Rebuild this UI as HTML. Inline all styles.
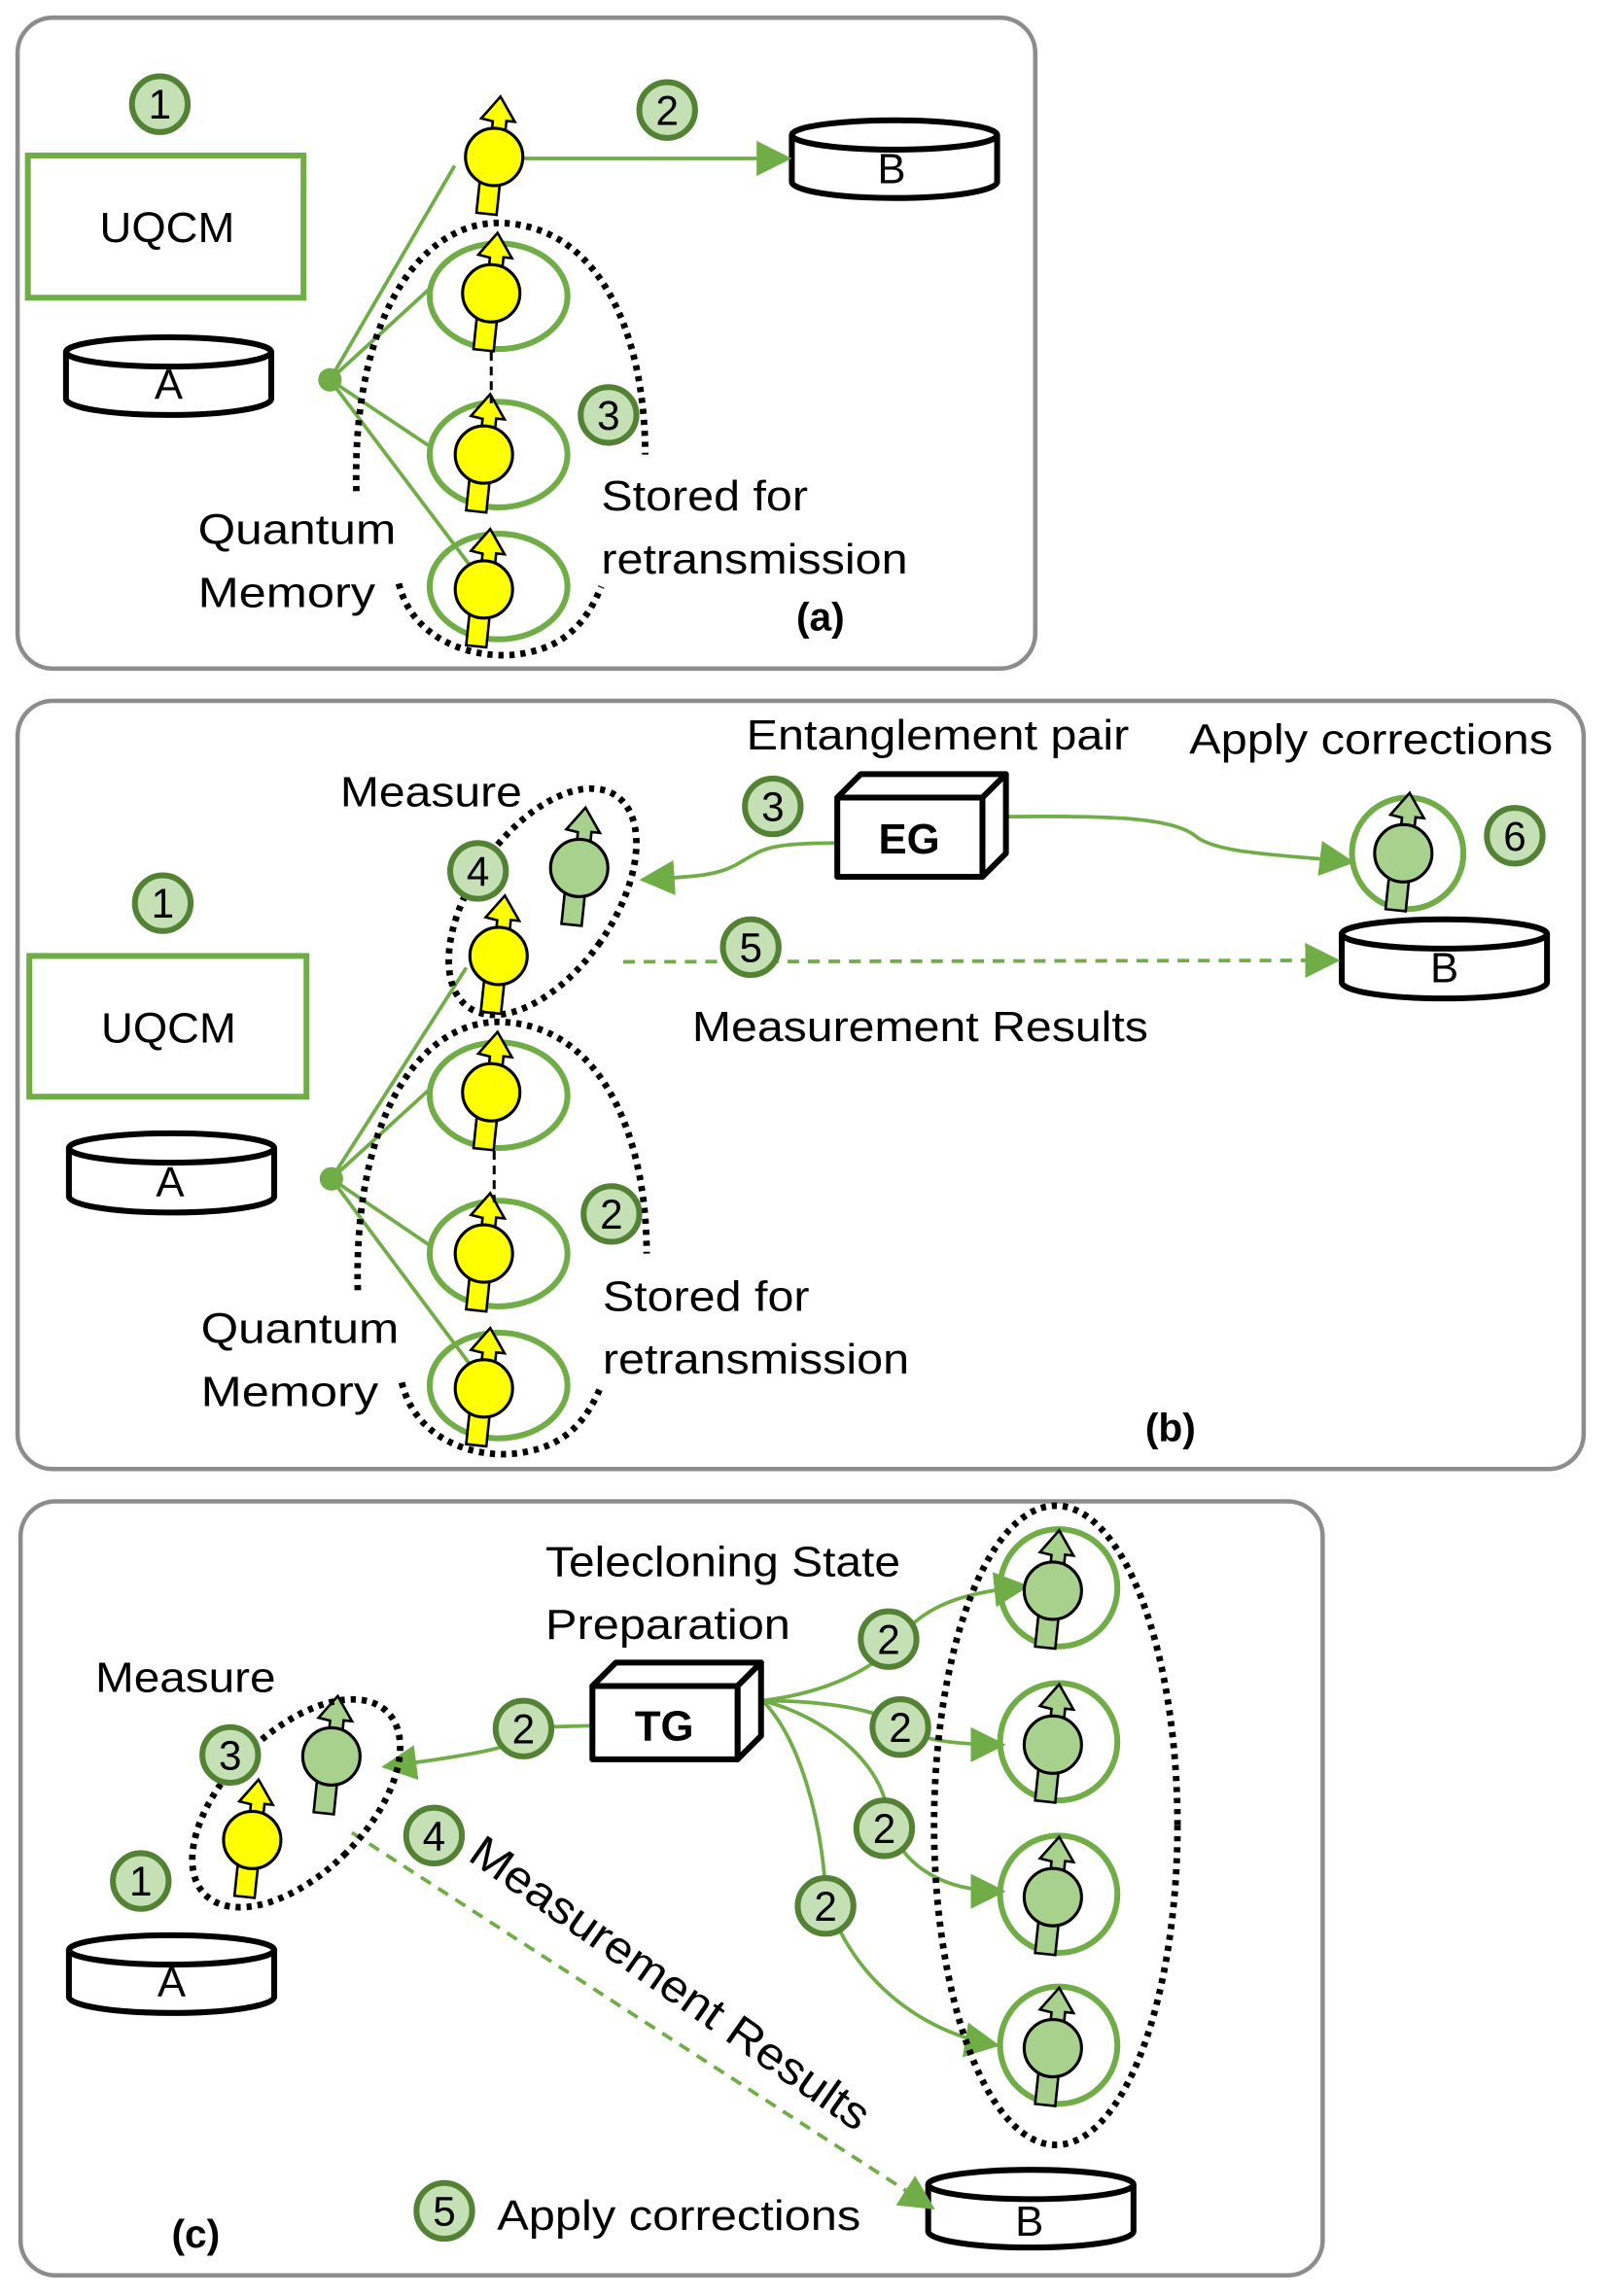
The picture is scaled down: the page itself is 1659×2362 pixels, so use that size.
<!DOCTYPE html>
<html><head><meta charset="utf-8"><style>
html,body{margin:0;padding:0;background:#fff}
svg{display:block}
text{font-family:"Liberation Sans",sans-serif;fill:#000}
</style></head><body>
<svg width="1659" height="2362" viewBox="0 0 1100 1566" xmlns="http://www.w3.org/2000/svg">
<defs>
<g id="ys" transform="scale(1.15)">
 <polygon points="0,-36 10,-22 5,-22 5,-15 -3,-15 -3,-21 -10,-22" fill="#ffff00" stroke="#000" stroke-width="1.5" transform="rotate(6)"/>
 <rect x="-7" y="14" width="12" height="20" fill="#ffff00" stroke="#000" stroke-width="1.5" transform="rotate(6)"/>
 <circle r="17" fill="#ffff00" stroke="#000" stroke-width="1.8"/>
</g>
<g id="gs" transform="scale(1.15)">
 <polygon points="0,-36 10,-22 5,-22 5,-15 -3,-15 -3,-21 -10,-22" fill="#a9d18e" stroke="#000" stroke-width="1.5" transform="rotate(6)"/>
 <rect x="-7" y="14" width="12" height="20" fill="#a9d18e" stroke="#000" stroke-width="1.5" transform="rotate(6)"/>
 <circle r="17" fill="#a9d18e" stroke="#000" stroke-width="1.8"/>
</g>
<marker id="ar2" markerWidth="24" markerHeight="24" refX="22" refY="12" orient="auto" markerUnits="userSpaceOnUse" viewBox="0 0 24 24">
 <polygon points="0,0 24,12 0,24" fill="#70ad47"/>
</marker>
</defs>

<g fill="none" stroke="#8c8c8c" stroke-width="3">
<rect x="12" y="12" width="694" height="444" rx="24"/>
<rect x="12" y="478" width="1068" height="524" rx="24"/>
<rect x="14" y="1024" width="888" height="528" rx="24"/>
</g>

<g font-size="29">
<!-- ========== (a) ========== -->
<rect x="19" y="106" width="188" height="97" fill="none" stroke="#70ad47" stroke-width="4"/>
<text x="68" y="165" textLength="92" lengthAdjust="spacingAndGlyphs">UQCM</text>
<g stroke="#000" stroke-width="4" fill="#fff">
<path d="M45,240 L45,272 A70,11 0 0 0 185,272 L185,240"/><ellipse cx="115" cy="240" rx="70" ry="10"/>
</g><text x="115" y="272" text-anchor="middle">A</text>
<g stroke="#000" stroke-width="4" fill="#fff">
<path d="M540,92 L540,124 A70,11 0 0 0 680,124 L680,92"/><ellipse cx="610" cy="92" rx="70" ry="10"/>
</g><text x="608" y="125" text-anchor="middle">B</text>
<g stroke="#70ad47" stroke-width="2.5" fill="none">
<line x1="225" y1="259" x2="310" y2="113"/>
<line x1="225" y1="259" x2="294" y2="196"/>
<line x1="225" y1="259" x2="294" y2="305"/>
<line x1="225" y1="259" x2="320" y2="385"/>
<line x1="357" y1="108" x2="538" y2="108" marker-end="url(#ar2)"/>
</g>
<circle cx="225" cy="259" r="8" fill="#70ad47"/>
<g fill="none" stroke="#70ad47" stroke-width="4">
<ellipse cx="340" cy="202" rx="47" ry="36"/><ellipse cx="340" cy="310" rx="47" ry="36"/><ellipse cx="340" cy="400" rx="47" ry="36"/>
</g>
<use href="#ys" x="337" y="107"/><use href="#ys" x="335" y="200"/><use href="#ys" x="330" y="310"/><use href="#ys" x="330" y="402"/>
<line x1="335" y1="240" x2="335" y2="275" stroke="#000" stroke-width="2" stroke-dasharray="6,4"/>
<g fill="none" stroke="#000" stroke-width="4.5" stroke-dasharray="3.5,4">
<path d="M243,335 C240,220 285,152 340,152 C410,153 440,230 440,310"/>
<path d="M272,398 C282,440 330,452 360,445 C385,440 400,425 410,400"/>
</g>
<text x="135" y="371" textLength="135" lengthAdjust="spacingAndGlyphs">Quantum</text><text x="135" y="414" textLength="121" lengthAdjust="spacingAndGlyphs">Memory</text>
<text x="410" y="348" textLength="141" lengthAdjust="spacingAndGlyphs">Stored for</text><text x="410" y="391" textLength="209" lengthAdjust="spacingAndGlyphs">retransmission</text>
<text x="543" y="430" font-weight="bold" font-size="27">(a)</text>

<!-- ========== (b) ========== -->
<rect x="20" y="652" width="189" height="96" fill="none" stroke="#70ad47" stroke-width="4"/>
<text x="69" y="711" textLength="92" lengthAdjust="spacingAndGlyphs">UQCM</text>
<g stroke="#000" stroke-width="4" fill="#fff">
<path d="M47,783 L47,816 A70,11 0 0 0 187,816 L187,783"/><ellipse cx="117" cy="783" rx="70" ry="10"/>
</g><text x="116" y="816" text-anchor="middle">A</text>
<g stroke="#000" stroke-width="4" fill="#fff">
<path d="M915,637 L915,670 A70,11 0 0 0 1055,670 L1055,637"/><ellipse cx="985" cy="637" rx="70" ry="10"/>
</g><text x="985" y="670" text-anchor="middle">B</text>
<g stroke="#70ad47" stroke-width="2.5" fill="none">
<line x1="226" y1="804" x2="318" y2="660"/>
<line x1="226" y1="804" x2="294" y2="742"/>
<line x1="226" y1="804" x2="294" y2="850"/>
<line x1="226" y1="804" x2="320" y2="930"/>
<path d="M571,575 C520,575 520,580 505,588 C490,598 470,598 438,600" marker-end="url(#ar2)"/>
<path d="M686,557 C760,556 800,558 815,570 C830,583 880,583 922,588" marker-end="url(#ar2)"/>
<line x1="425" y1="656" x2="912" y2="655" stroke-dasharray="8,6" marker-end="url(#ar2)"/>
</g>
<circle cx="226" cy="804" r="8" fill="#70ad47"/>
<g fill="none" stroke="#70ad47" stroke-width="4">
<ellipse cx="340" cy="747" rx="47" ry="36"/><ellipse cx="340" cy="855" rx="47" ry="36"/><ellipse cx="340" cy="945" rx="47" ry="36"/>
<circle cx="960" cy="582" r="38"/>
</g>
<use href="#ys" x="340" y="652"/><use href="#ys" x="335" y="745"/><use href="#ys" x="330" y="855"/><use href="#ys" x="330" y="947"/>
<use href="#gs" x="395" y="592"/><use href="#gs" x="957" y="582"/>
<line x1="337" y1="785" x2="337" y2="820" stroke="#000" stroke-width="2" stroke-dasharray="6,4"/>
<g fill="none" stroke="#000" stroke-width="4.5" stroke-dasharray="3.5,4">
<path d="M244,880 C241,765 285,697 340,697 C410,698 441,775 441,855"/>
<path d="M274,943 C284,985 330,997 360,990 C385,985 400,970 410,945"/>
<ellipse cx="370" cy="615" rx="48" ry="88" transform="rotate(35 370 615)"/>
</g>
<g stroke="#000" stroke-width="4" fill="#fff" stroke-linejoin="round">
<polygon points="571,544 587,528 686,528 670,544"/>
<polygon points="670,544 686,528 686,582 670,598"/>
<rect x="571" y="544" width="99" height="54"/>
</g>
<text x="620" y="582" text-anchor="middle" font-weight="bold">EG</text>
<text x="232" y="550" textLength="124" lengthAdjust="spacingAndGlyphs">Measure</text>
<text x="509" y="511" textLength="261" lengthAdjust="spacingAndGlyphs">Entanglement pair</text>
<text x="811" y="514" textLength="248" lengthAdjust="spacingAndGlyphs">Apply corrections</text>
<text x="472" y="710" textLength="311" lengthAdjust="spacingAndGlyphs">Measurement Results</text>
<text x="137" y="916" textLength="135" lengthAdjust="spacingAndGlyphs">Quantum</text><text x="137" y="959" textLength="121" lengthAdjust="spacingAndGlyphs">Memory</text>
<text x="411" y="894" textLength="141" lengthAdjust="spacingAndGlyphs">Stored for</text><text x="411" y="937" textLength="209" lengthAdjust="spacingAndGlyphs">retransmission</text>
<text x="781" y="983" font-weight="bold" font-size="27">(b)</text>

<!-- ========== (c) ========== -->
<g stroke="#000" stroke-width="4" fill="#fff">
<path d="M47,1330 L47,1362 A70,11 0 0 0 187,1362 L187,1330"/><ellipse cx="117" cy="1330" rx="70" ry="10"/>
</g><text x="117" y="1362" text-anchor="middle">A</text>
<g stroke="#000" stroke-width="4" fill="#fff">
<path d="M633,1490 L633,1522 A70,11 0 0 0 773,1522 L773,1490"/><ellipse cx="703" cy="1490" rx="70" ry="10"/>
</g><text x="702" y="1525" text-anchor="middle">B</text>
<g stroke="#70ad47" stroke-width="2.5" fill="none">
<path d="M404,1177 L370,1178 C355,1190 340,1195 262,1205" marker-end="url(#ar2)"/>
<path d="M520,1160 C560,1155 600,1140 620,1110 C640,1090 670,1085 700,1082" marker-end="url(#ar2)"/>
<path d="M520,1160 C560,1160 600,1165 620,1180 C630,1188 660,1190 684,1190" marker-end="url(#ar2)"/>
<path d="M520,1160 C560,1170 600,1200 605,1235 C610,1270 640,1290 684,1290" marker-end="url(#ar2)"/>
<path d="M520,1160 C545,1185 560,1240 563,1290 C575,1340 620,1385 680,1395" marker-end="url(#ar2)"/>
<line x1="240" y1="1250" x2="636" y2="1506" stroke-dasharray="8,6" marker-end="url(#ar2)"/>
</g>
<g fill="none" stroke="#70ad47" stroke-width="4">
<circle cx="722" cy="1083" r="40"/><circle cx="722" cy="1188" r="40"/><circle cx="722" cy="1292" r="40"/><circle cx="722" cy="1395" r="40"/>
</g>
<use href="#gs" x="718" y="1085"/><use href="#gs" x="718" y="1190"/><use href="#gs" x="718" y="1294"/><use href="#gs" x="718" y="1397"/>
<use href="#gs" x="226" y="1198"/><use href="#ys" x="172" y="1255"/>
<g fill="none" stroke="#000" stroke-width="4.5" stroke-dasharray="3.5,4">
<ellipse cx="720" cy="1245" rx="83" ry="218"/>
<ellipse cx="202" cy="1230" rx="48" ry="88" transform="rotate(45 202 1230)"/>
</g>
<g stroke="#000" stroke-width="4" fill="#fff" stroke-linejoin="round">
<polygon points="404,1150 420,1134 519,1134 503,1150"/>
<polygon points="503,1150 519,1134 519,1184 503,1200"/>
<rect x="404" y="1150" width="99" height="50"/>
</g>
<text x="453" y="1187" text-anchor="middle" font-weight="bold">TG</text>
<text x="372" y="1075" textLength="242" lengthAdjust="spacingAndGlyphs">Telecloning State</text>
<text x="372" y="1118" textLength="167" lengthAdjust="spacingAndGlyphs">Preparation</text>
<text x="65" y="1154" textLength="123" lengthAdjust="spacingAndGlyphs">Measure</text>
<text x="339" y="1521" textLength="248" lengthAdjust="spacingAndGlyphs">Apply corrections</text>
<text transform="translate(318,1268) rotate(35)" font-size="31" textLength="325" lengthAdjust="spacingAndGlyphs">Measurement Results</text>
<text x="117" y="1533" font-weight="bold" font-size="27">(c)</text>
</g>

<!-- badges -->
<g font-size="28" text-anchor="middle">
<g fill="#c5e0b4" stroke="#548235" stroke-width="4">
<circle cx="109" cy="71" r="19"/><circle cx="455" cy="75" r="19"/><circle cx="415" cy="283" r="19"/>
<circle cx="111" cy="616" r="19"/><circle cx="527" cy="550" r="19"/><circle cx="326" cy="594" r="19"/><circle cx="512" cy="646" r="19"/><circle cx="1033" cy="570" r="19"/><circle cx="417" cy="828" r="19"/>
<circle cx="96" cy="1283" r="19"/><circle cx="157" cy="1197" r="19"/><circle cx="357" cy="1179" r="19"/><circle cx="296" cy="1252" r="19"/><circle cx="303" cy="1508" r="19"/>
<circle cx="606" cy="1118" r="19"/><circle cx="614" cy="1178" r="19"/><circle cx="603" cy="1247" r="19"/><circle cx="563" cy="1300" r="19"/>
</g>
<text x="109" y="81">1</text><text x="455" y="85">2</text><text x="415" y="293">3</text>
<text x="111" y="626">1</text><text x="527" y="560">3</text><text x="326" y="604">4</text><text x="512" y="656">5</text><text x="1033" y="580">6</text><text x="417" y="838">2</text>
<text x="96" y="1293">1</text><text x="157" y="1207">3</text><text x="357" y="1189">2</text><text x="296" y="1262">4</text><text x="303" y="1518">5</text>
<text x="606" y="1128">2</text><text x="614" y="1188">2</text><text x="603" y="1257">2</text><text x="563" y="1310">2</text>
</g>
</svg>
</body></html>
